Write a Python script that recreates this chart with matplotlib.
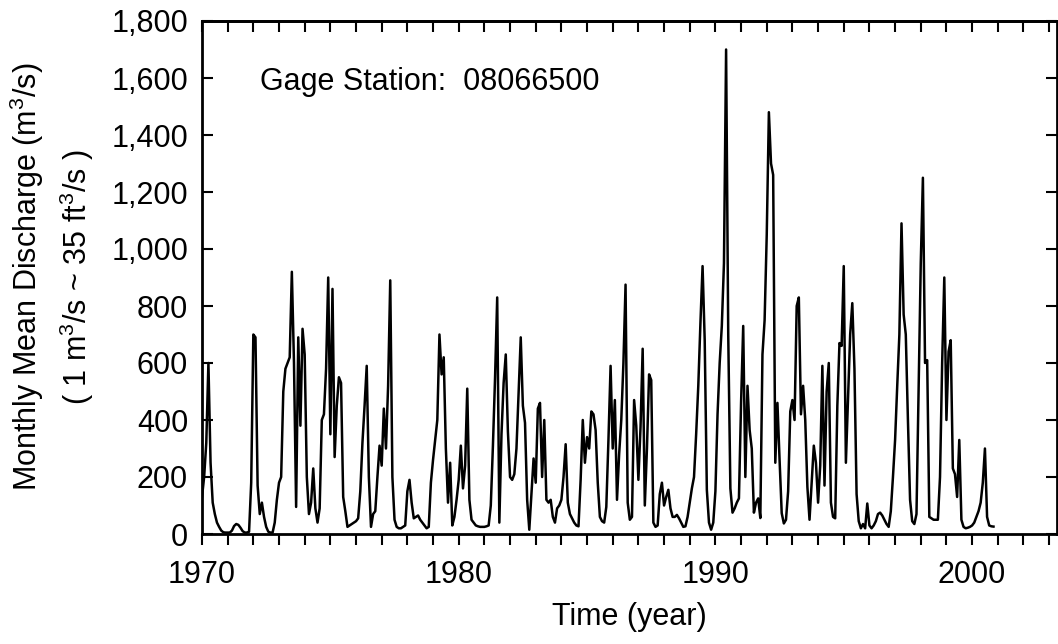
import numpy as np
import matplotlib
matplotlib.use("Agg")
import matplotlib.pyplot as plt
from matplotlib.ticker import MultipleLocator, FuncFormatter

plt.rcParams['font.family'] = ['Liberation Sans', 'DejaVu Sans']
plt.rcParams['mathtext.fontset'] = 'custom'
plt.rcParams['mathtext.rm'] = 'Liberation Sans'
plt.rcParams['mathtext.it'] = 'Liberation Sans:italic'

# monthly mean discharge (m3/s), Jan 1970 onwards
q_1970s = [
    130, 200, 320, 600, 250, 110, 70, 40, 25, 12, 6, 5,
    5, 5, 12, 28, 35, 32, 22, 10, 5, 5, 8, 180,
    700, 690, 170, 70, 110, 60, 25, 8, 5, 5, 40, 120,
    180, 200, 500, 580, 600, 620, 920, 600, 95, 690, 380, 720,
    630, 200, 70, 110, 230, 90, 40, 90, 400, 420, 580, 900,
    350, 860, 270, 450, 550, 530, 130, 80, 25, 30, 35, 40,
    45, 55, 150, 320, 450, 590, 200, 25, 70, 80, 200, 310,
    240, 440, 300, 520, 890, 200, 50, 25, 20, 20, 25, 30,
    150, 190, 110, 55, 60, 65, 50, 40, 30, 20, 25, 180,
    260, 330, 400, 700, 560, 620, 300, 110, 250, 30, 60, 120,
]
q_1980s = [
    190, 310, 160, 240, 510, 120, 50, 40, 30, 27, 25, 25,
    25, 27, 30, 100, 310, 550, 830, 40, 350, 530, 630, 360,
    200, 190, 210, 300, 500, 690, 450, 390, 120, 15, 140, 265,
    180, 440, 460, 200, 400, 120, 110, 120, 60, 40, 90, 100,
    120, 200, 315, 110, 70, 55, 40, 30, 27, 190, 400, 250,
    340, 300, 430, 420, 365, 180, 60, 45, 40, 95, 330, 590,
    300, 470, 120, 280, 400, 600, 875, 110, 50, 60, 470, 380,
    190, 375, 650, 100, 300, 560, 540, 40, 25, 30, 140, 180,
    100, 130, 155, 90, 60, 60, 67, 55, 40, 25, 27, 60,
    110, 160, 200, 350, 520, 740, 940, 680, 155, 40, 15, 40,
]
q_1990s = [
    150, 420, 600, 730, 950, 1700, 700, 160, 75, 90, 110, 125,
    460, 730, 200, 520, 365, 300, 75, 110, 125, 56, 630, 750,
    1050, 1480, 1300, 1260, 250, 460, 260, 73, 37, 50, 150, 430,
    470, 400, 800, 830, 420, 520, 400, 165, 50, 180, 310, 250,
    110, 240, 590, 170, 500, 600, 110, 60, 55, 450, 670, 660,
    940, 250, 470, 700, 810, 580, 140, 45, 20, 35, 20, 107,
    30, 20, 30, 45, 70, 75, 65, 50, 35, 25, 80, 200,
    330, 520, 700, 1090, 770, 700, 400, 120, 45, 35, 70, 500,
    950, 1250, 600, 610, 60, 55, 50, 50, 50, 200, 600, 900,
    400, 640, 680, 230, 210, 130, 330, 50, 25, 20, 22, 25,
]
q_2000 = [30, 40, 60, 80, 110, 180, 300, 60, 30, 27, 26]

station = "08066500"
year_ticks = [1970, 1980, 1990, 2000]
y_ticks = list(range(0, 1801, 200))

discharge = np.array(q_1970s + q_1980s + q_1990s + q_2000, dtype=float)
t = 1970 + np.arange(len(discharge)) / 12.0

fig = plt.figure(figsize=(10.58, 6.44), dpi=100)
ax = fig.add_axes([202 / 1058, 110 / 644, 855 / 1058, 513 / 644])

ax.plot(t, discharge, color="black", linewidth=1.8)

ax.set_xlim(1970, 1970 + 855 / 25.67)
ax.set_ylim(0, 1800)

ax.set_xticks(year_ticks)
ax.xaxis.set_minor_locator(MultipleLocator(1))
ax.set_yticks(y_ticks)
ax.yaxis.set_major_formatter(FuncFormatter(lambda v, p: "{:,.0f}".format(v)))

ax.tick_params(axis="x", which="both", direction="out", length=8, width=1.5,
               top=False, labelsize=22, pad=11)
ax.tick_params(axis="y", which="major", direction="in", length=8, width=1.5,
               right=True, labelsize=22, pad=10)

# top axis: ticks every year pointing inward, no labels
top = ax.secondary_xaxis("top")
top.set_xticks(range(1970, 2004))
top.set_xticklabels([])
top.tick_params(direction="in", length=8, width=1.5)
top.spines["top"].set_linewidth(2)

for s in ax.spines.values():
    s.set_linewidth(2)

ax.text(0.068, 0.881, "Gage Station:  " + station, transform=ax.transAxes,
        ha="left", va="center", fontsize=22)

fig.text(27 / 1058, 0.57, "Monthly Mean Discharge (m$^3$/s)", rotation=90,
         ha="center", va="center", fontsize=22)
fig.text(77 / 1058, 0.57, "( 1 m$^3$/s ~ 35 ft$^3$/s )", rotation=90,
         ha="center", va="center", fontsize=22)
fig.text(629 / 1058, 1 - 617 / 644, "Time (year)", ha="center", va="center",
         fontsize=22)

fig.savefig("out.png", dpi=100)
